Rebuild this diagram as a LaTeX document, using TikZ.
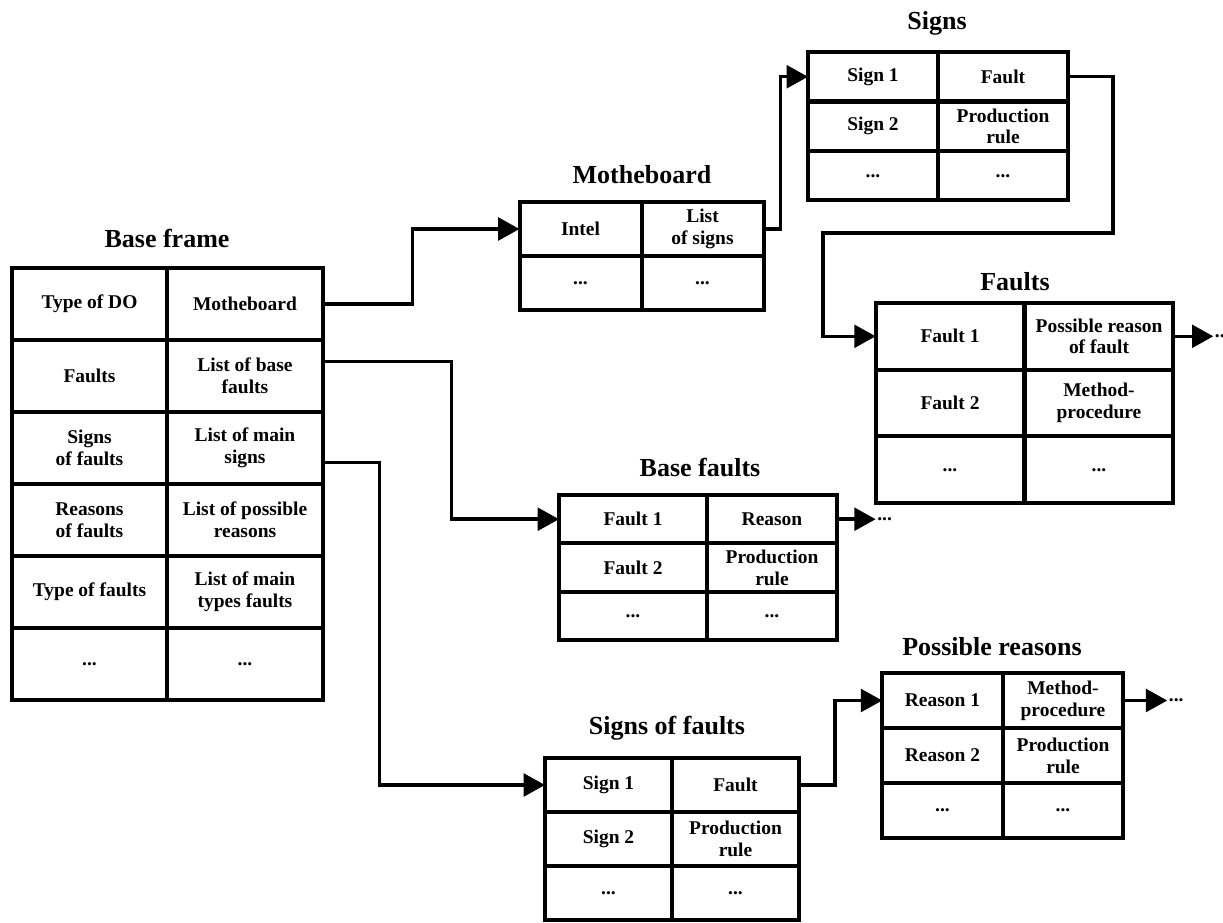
\documentclass[tikz,border=0pt]{standalone}
\usepackage{fontspec}
\setmainfont{Liberation Serif}
\usetikzlibrary{arrows.meta,positioning}
\tikzset{
  cell/.style={draw, line width=3pt, outer sep=0pt, inner sep=1pt, align=center,
    font=\fontsize{14.6}{16.3}\selectfont\bfseries},
  title/.style={font=\fontsize{19.5}{22}\selectfont\bfseries},
  conn/.style={line width=2.6pt, -{Triangle[length=16pt, width=17pt]}},
  more/.style={inner sep=1pt, font=\fontsize{14.6}{16}\selectfont\bfseries},
}
\begin{document}
\begin{tikzpicture}[x=0.75pt, y=-0.75pt]
\useasboundingbox (0,0) rectangle (1223,922);
% base frame
\node[title] (bftitle) at (167,238) {Base frame};
\begin{scope}[cell/.append style={minimum width=116.5pt, minimum height=54pt}]
\node[cell] (bf11) at (89.5,304) {Type of DO};
\node[cell] (bf12) at (245,304) {Motheboard};
\node[cell] (bf21) at (89.5,376) {Faults};
\node[cell] (bf22) at (245,376) {List of base\\faults};
\node[cell] (bf31) at (89.5,448) {Signs\\of faults};
\node[cell] (bf32) at (245,448) {List of main\\signs};
\node[cell] (bf41) at (89.5,520) {Reasons\\of faults};
\node[cell] (bf42) at (245,520) {List of possible\\reasons};
\node[cell] (bf51) at (89.5,592) {Type of faults};
\node[cell] (bf52) at (245,592) {List of main\\types faults};
\node[cell] (bf61) at (89.5,664) {...};
\node[cell] (bf62) at (245,664) {...};
\end{scope}
% motheboard
\node[title] (mbtitle) at (642,175) {Motheboard};
\begin{scope}[cell/.append style={minimum width=91.5pt, minimum height=40.5pt}]
\node[cell] (mb11) at (580.5,229) {Intel};
\node[cell] (mb12) at (702.5,229) {List\\of signs};
\node[cell] (mb21) at (580.5,283) {...};
\node[cell] (mb22) at (702.5,283) {...};
\end{scope}
% signs
\node[title] (sgtitle) at (937,23) {Signs};
\begin{scope}[cell/.append style={minimum width=97.5pt, minimum height=37.1pt}]
\node[cell] (sg11) at (873,76.75) {Sign 1};
\node[cell] (sg12) at (1003,76.75) {Fault};
\node[cell] (sg21) at (873,126.25) {Sign 2};
\node[cell] (sg22) at (1003,126.25) {Production\\rule};
\node[cell] (sg31) at (873,175.75) {...};
\node[cell] (sg32) at (1003,175.75) {...};
\end{scope}
% faults
\node[title] (fttitle) at (1015,282) {Faults};
\begin{scope}[cell/.append style={minimum width=111.5pt, minimum height=50pt}]
\node[cell] (ft11) at (950,336.3) {Fault 1};
\node[cell] (ft12) at (1099,336.3) {Possible reason\\of fault};
\node[cell] (ft21) at (950,403) {Fault 2};
\node[cell] (ft22) at (1099,403) {Method-\\procedure};
\node[cell] (ft31) at (950,469.7) {...};
\node[cell] (ft32) at (1099,469.7) {...};
\end{scope}
% base faults
\node[title] (bsftitle) at (700,467) {Base faults};
\begin{scope}[cell/.append style={minimum width=111pt, minimum height=36.25pt}]
\node[cell] (bsf11) at (633,519.2) {Fault 1};
\node[cell, minimum width=97.5pt] (bsf12) at (772,519.2) {Reason};
\node[cell] (bsf21) at (633,567.5) {Fault 2};
\node[cell, minimum width=97.5pt] (bsf22) at (772,567.5) {Production\\rule};
\node[cell] (bsf31) at (633,615.8) {...};
\node[cell, minimum width=97.5pt] (bsf32) at (772,615.8) {...};
\end{scope}
% signs of faults
\node[title] (sftitle) at (667,728) {Signs of faults};
\begin{scope}[cell/.append style={minimum width=95.25pt, minimum height=40.5pt}]
\node[cell] (sf11) at (608.5,785) {Sign 1};
\node[cell] (sf12) at (735.5,785) {Fault};
\node[cell] (sf21) at (608.5,839) {Sign 2};
\node[cell] (sf22) at (735.5,839) {Production\\rule};
\node[cell] (sf31) at (608.5,893) {...};
\node[cell] (sf32) at (735.5,893) {...};
\end{scope}
% possible reasons
\node[title] (prtitle) at (992,647) {Possible reasons};
\begin{scope}[cell/.append style={minimum width=90.4pt, minimum height=41.25pt}]
\node[cell] (pr11) at (942.5,700.5) {Reason 1};
\node[cell] (pr12) at (1063,700.5) {Method-\\procedure};
\node[cell] (pr21) at (942.5,755.5) {Reason 2};
\node[cell] (pr22) at (1063,755.5) {Production\\rule};
\node[cell] (pr31) at (942.5,810.5) {...};
\node[cell] (pr32) at (1063,810.5) {...};
\end{scope}
% continuation dots
\node[more, right=30pt of ft12] (ftmore) {...};
\node[more, right=29pt of bsf12] (bsfmore) {...};
\node[more, right=33pt of pr12] (prmore) {...};
% connectors
\draw[conn] (bf12.east) -- ++(90,0) |- (mb11.west);
\draw[conn] (mb12.east) -- ++(17,0) |- (sg11.west);
\draw[conn] (sg12.east) -- ++(45,0) |- (823,233) |- (ft11.west);
\draw[conn] ([yshift=11pt]bf22.east) -- ++(129,0) |- (bsf11.west);
\draw[conn] ([yshift=-11pt]bf32.east) -- ++(57,0) |- (sf11.west);
\draw[conn] (sf12.east) -- ++(36,0) |- (pr11.west);
\draw[conn] (ft12.east) -- (ftmore.west);
\draw[conn] (bsf12.east) -- (bsfmore.west);
\draw[conn] (pr12.east) -- (prmore.west);
\end{tikzpicture}
\end{document}
